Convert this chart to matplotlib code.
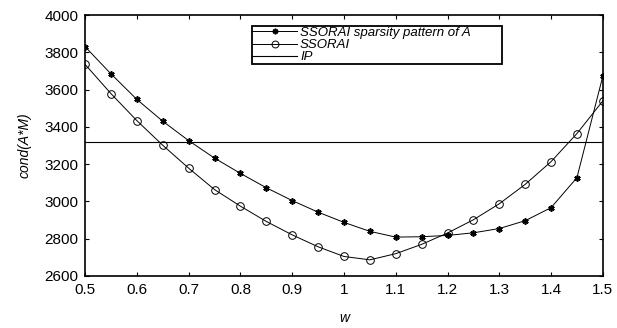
import matplotlib.pyplot as plt
import numpy as np

plt.rcParams['font.family'] = ['Liberation Sans', 'DejaVu Sans']

w = [0.5, 0.55, 0.6, 0.65, 0.7, 0.75, 0.8, 0.85, 0.9, 0.95, 1.0,
     1.05, 1.1, 1.15, 1.2, 1.25, 1.3, 1.35, 1.4, 1.45, 1.5]
ssorai_pattern = [3830, 3684, 3547, 3430, 3326, 3232, 3150, 3073, 3004, 2942, 2887,
                  2839, 2808, 2810, 2817, 2831, 2854, 2896, 2966, 3127, 3672]
ssorai = [3735, 3578, 3433, 3301, 3178, 3063, 2974, 2892, 2820, 2756, 2704,
          2686, 2719, 2769, 2830, 2901, 2987, 3091, 3213, 3364, 3539]
ip = 3317

fig, ax = plt.subplots(figsize=(6.17, 3.28), dpi=100)
fig.subplots_adjust(left=0.138, right=0.977, top=0.954, bottom=0.159)

ax.plot(w, ssorai_pattern, color='black', lw=0.7, marker=(6, 2, 0), ms=4.5,
        mew=1.2, label='SSORAI sparsity pattern of A')
ax.plot(w, ssorai, color='black', lw=0.7, marker='o', ms=5.5, mfc='none',
        mew=0.7, label='SSORAI')
ax.axhline(ip, color='black', lw=0.8, label='IP')

ax.set_xlim(0.5, 1.5)
ax.set_ylim(2600, 4000)
ax.set_xticks(np.arange(0.5, 1.51, 0.1))
ax.set_xticklabels(['0.5', '0.6', '0.7', '0.8', '0.9', '1', '1.1', '1.2', '1.3', '1.4', '1.5'])
ax.set_yticks(np.arange(2600, 4001, 200))
ax.tick_params(direction='in', top=True, right=True, labelsize=11, length=3, pad=5)
for s in ax.spines.values():
    s.set_linewidth(1.2)

ax.set_xlabel('w', style='italic', fontsize=10, labelpad=10)
ax.set_ylabel('cond(A*M)', style='italic', fontsize=10, labelpad=9)

leg = ax.legend(loc='upper left', bbox_to_anchor=(0.322, 0.958, 0.483, 0.0),
                mode='expand', fontsize=9.5,
                frameon=True, fancybox=False, edgecolor='black', markerscale=0.9,
                borderpad=0.05, labelspacing=0.0, handlelength=3.4,
                handletextpad=0.2, borderaxespad=0, framealpha=1)
leg.get_frame().set_linewidth(1.3)
for t in leg.get_texts():
    t.set_style('italic')

plt.savefig('out.png')
